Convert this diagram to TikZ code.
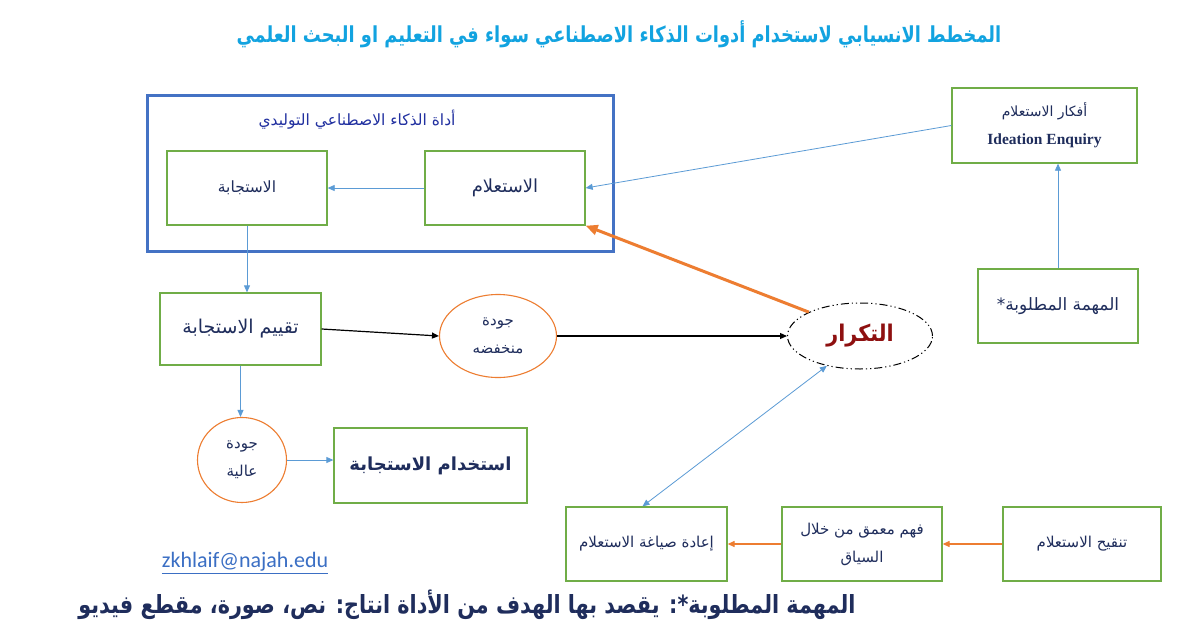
\documentclass[tikz,border=0pt]{standalone}
\usepackage{fontspec}
\usetikzlibrary{arrows.meta,shapes.geometric}
\TeXXeTstate=1
\newfontfamily\arabicfont[Script=Arabic]{DejaVu Sans}
\newfontfamily\latinserif{Liberation Serif}
\newfontfamily\emailfont{Carlito}
\newcommand\myR[1]{\beginR #1\endR}
\definecolor{gborder}{HTML}{70AD47}
\definecolor{bborder}{HTML}{4472C4}
\definecolor{lblue}{HTML}{5B9BD5}
\definecolor{orng}{HTML}{ED7D31}
\definecolor{navy}{HTML}{1F2D5C}
\definecolor{titleblue}{HTML}{12A3E0}
\definecolor{toolblue}{HTML}{2130A0}
\definecolor{repred}{HTML}{8E1010}
\definecolor{mailblue}{HTML}{3B6FC4}
\tikzset{
  gbox/.style={draw=gborder, line width=1.3pt, fill=white, text=navy, align=center, inner sep=2pt},
  oell/.style={ellipse, draw=orng, line width=1.1pt, fill=white, text=navy, align=center, inner sep=0pt},
  bluearrow/.style={draw=lblue, line width=0.8pt, -{Triangle[length=7pt,width=6pt]}},
  blackarrow/.style={draw=black, line width=1.2pt, -{Triangle[length=7pt,width=6pt]}},
  orangearrow/.style={draw=orng, line width=1.2pt, -{Triangle[length=7pt,width=6pt]}},
}
\begin{document}
\begin{tikzpicture}[x=1pt,y=-1pt]
\useasboundingbox (0,0) rectangle (1200,629);
\fill[white] (0,0) rectangle (1200,629);

% title
\node (title) at (619,34) {\arabicfont\bfseries\fontsize{22}{26}\selectfont\color{titleblue}\scalebox{0.81}[1]{\myR{المخطط الانسيابي لاستخدام أدوات الذكاء الاصطناعي سواء في التعليم او البحث العلمي}}};

% big tool box
\node[draw=bborder, line width=3pt, minimum width=466pt, minimum height=156pt] (tool) at (380,173) {};
\node[text=toolblue, font={\arabicfont\fontsize{15.5}{18}\selectfont}] (toollbl) at (357,120) {\myR{أداة الذكاء الاصطناعي التوليدي}};

\node[gbox, minimum width=160pt, minimum height=74pt, font={\arabicfont\fontsize{15.5}{18}\selectfont}] (resp) at (247,188) {\myR{الاستجابة}};
\node[gbox, minimum width=160pt, minimum height=74pt, font={\arabicfont\fontsize{18}{20}\selectfont}] (enq) at (505,188) {\myR{الاستعلام}};

\node[gbox, minimum width=185pt, minimum height=75pt, font={\arabicfont\fontsize{14}{28}\selectfont}] (idea) at (1044.5,125.5) {\myR{أفكار  الاستعلام}\\{\latinserif\bfseries\fontsize{15.5}{28}\selectfont Ideation Enquiry}};
\node[gbox, minimum width=160pt, minimum height=74pt, font={\arabicfont\fontsize{17}{20}\selectfont}] (task) at (1058,306) {\myR{المهمة المطلوبة*}};

\node[gbox, minimum width=161pt, minimum height=72pt, font={\arabicfont\fontsize{19}{22}\selectfont}] (eval) at (240.5,329) {\myR{تقييم الاستجابة}};

\node[oell, minimum width=117pt, minimum height=83pt, font={\arabicfont\fontsize{15}{28}\selectfont}] (low) at (498,336) {\myR{جودة}\\\myR{منخفضه}};

\node[ellipse, draw=black, line width=1pt, dash pattern=on 8pt off 3pt on 1.2pt off 3pt on 1.2pt off 3pt, minimum width=145pt, minimum height=66pt, fill=white, text=repred, font={\arabicfont\bfseries\fontsize{23}{26}\selectfont}] (rep) at (860,336) {\scalebox{0.9}[1]{\myR{التكرار}}};

\node[oell, minimum width=89pt, minimum height=85pt, font={\arabicfont\fontsize{15}{28}\selectfont}] (high) at (242,460) {\myR{جودة}\\\myR{عالية}};

\node[gbox, minimum width=193pt, minimum height=75pt, font={\arabicfont\bfseries\fontsize{18}{22}\selectfont}] (use) at (430.5,465.5) {\myR{استخدام الاستجابة}};

\node[gbox, minimum width=161pt, minimum height=74pt, font={\arabicfont\fontsize{15}{18}\selectfont}] (refm) at (646.5,544) {\myR{إعادة صياغة الاستعلام}};
\node[gbox, minimum width=160pt, minimum height=74pt, font={\arabicfont\fontsize{15}{28}\selectfont}] (deep) at (862,544) {\myR{فهم معمق من خلال}\\\myR{السياق}};
\node[gbox, minimum width=158pt, minimum height=74pt, font={\arabicfont\fontsize{15}{18}\selectfont}] (refine) at (1082,544) {\myR{تنقيح الاستعلام}};

% email and note
\node[text=mailblue, font={\emailfont\fontsize{22}{24}\selectfont}] (mail) at (245,563) {\underline{zkhlaif@najah.edu}};
\node[text=navy, font={\arabicfont\bfseries\fontsize{25}{28}\selectfont}] (note) at (467,605) {\scalebox{0.83}[1]{\myR{المهمة المطلوبة*: يقصد بها الهدف من الأداة انتاج: نص، صورة، مقطع فيديو}}};

% connectors
\draw[bluearrow] (enq.west) -- (resp.east);
\draw[bluearrow] (idea.west) -- (enq.east);
\draw[bluearrow] (task.north) -- (task.north |- idea.south);
\draw[bluearrow] (resp.south) -- (resp.south |- eval.north);
\draw[bluearrow] (eval.south) -- (eval.south |- high.north);
\draw[bluearrow] (high.east) -- (high.east -| use.west);
\draw[blackarrow] (eval.east) -- (low.west);
\draw[blackarrow] (low.east) -- (rep.west);
\draw[draw=orng, line width=3pt, -{Triangle[length=12pt,width=10pt]}] (rep.155) -- (enq.south east);
\draw[draw=lblue, line width=0.8pt, {Triangle[length=7pt,width=6pt]}-{Triangle[length=7pt,width=6pt]}] ([xshift=-4pt]refm.north) -- (rep.222);
\draw[orangearrow] (refine.west) -- (deep.east);
\draw[orangearrow] (deep.west) -- (refm.east);
\end{tikzpicture}
\end{document}
